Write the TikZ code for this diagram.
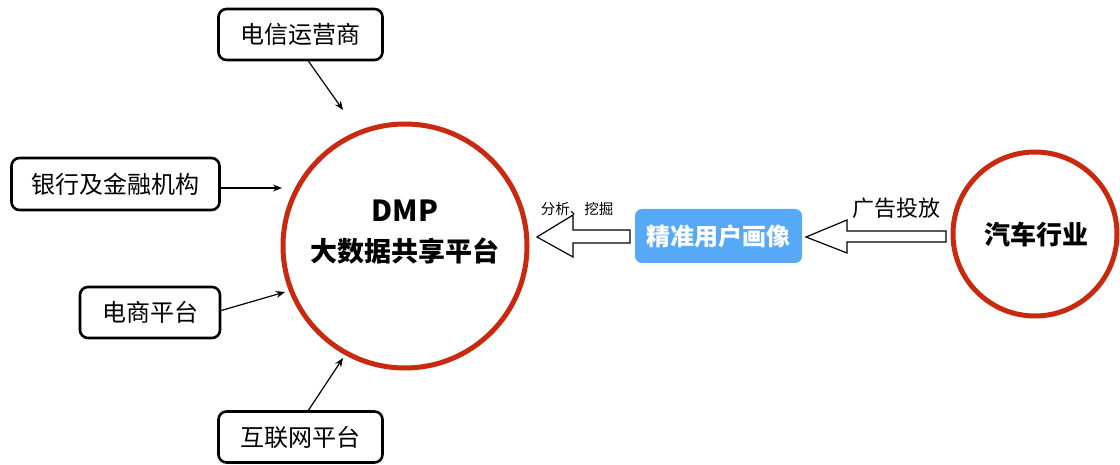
\documentclass[tikz,border=0pt]{standalone}
\usepackage{fontspec}
\setmainfont{Noto Sans CJK SC}
\usetikzlibrary{arrows.meta,calc}
\definecolor{ringred}{HTML}{C8290F}
\definecolor{skyblue}{HTML}{55A9F6}
\tikzset{
  srcbox/.style={draw=black, line width=2.6pt, rounded corners=8pt, fill=white, inner sep=0pt, font=\fontsize{24}{27}\selectfont},
  ring/.style={circle, draw=ringred, line width=5pt, inner sep=0pt},
  feed/.style={-{Stealth[length=9pt,width=7pt]}, line width=1.2pt},
  hollow/.style={draw=black, line width=1.2pt, fill=white, line join=miter},
}
\begin{document}
\begin{tikzpicture}[x=1pt,y=-1pt]
\useasboundingbox (0,0) rectangle (1120,465);
% sources
\node[srcbox, minimum width=164pt, minimum height=51pt] (tel) at (300.5,34.5) {电信运营商};
\node[srcbox, minimum width=208pt, minimum height=52pt] (bank) at (115.5,184) {银行及金融机构};
\node[srcbox, minimum width=140pt, minimum height=51pt] (ecom) at (150,312.5) {电商平台};
\node[srcbox, minimum width=164pt, minimum height=51pt] (net) at (300.5,437) {互联网平台};
% main circle
\node[ring, minimum size=244pt] (dmp) at (405,246) {};
\node[font=\fontsize{29}{32}\selectfont\bfseries] (dmpt) at (405,211) {DMP};
\node[font=\fontsize{27}{30}\selectfont\bfseries] (dmpn) at (405,251) {大数据共享平台};
% car circle
\node[ring, minimum size=164pt] (car) at (1035,234) {};
\node[font=\fontsize{26}{30}\selectfont\bfseries] (cart) at (1036,234) {汽车行业};
% blue box
\node[fill=skyblue, rounded corners=7pt, minimum width=167pt, minimum height=54pt, inner sep=0pt,
      text=white, font=\fontsize{24}{27}\selectfont\bfseries] (prof) at (718.5,236) {精准用户画像};
% feed arrows
\coordinate (telend) at (343,110);
\coordinate (bankend) at (282,188);
\coordinate (ecomend) at (285,292);
\coordinate (netend) at (343,358);
\draw[feed] ($(tel.south)+(8,0)$) -- (telend);
\draw[feed] (bank.east |- bankend) -- (bankend);
\draw[feed] ($(ecom.east)+(0,-2)$) -- (ecomend);
\draw[feed] ($(net.north)+(8,0)$) -- (netend);
% hollow arrow 1
\draw[hollow] (630,230) -- (573,230) -- (573,215) -- (537,237) -- (573,257) -- (573,243) -- (630,243) -- cycle;
\node[font=\fontsize{14.5}{16}\selectfont] (lab1) at (577,209) {分析、挖掘};
% hollow arrow 2
\draw[hollow] (946,231) -- (847,231) -- (847,220) -- (806,237) -- (847,253) -- (847,242) -- (946,242) -- cycle;
\node[font=\fontsize{22}{24}\selectfont] (lab2) at (896,208) {广告投放};
\end{tikzpicture}
\end{document}
